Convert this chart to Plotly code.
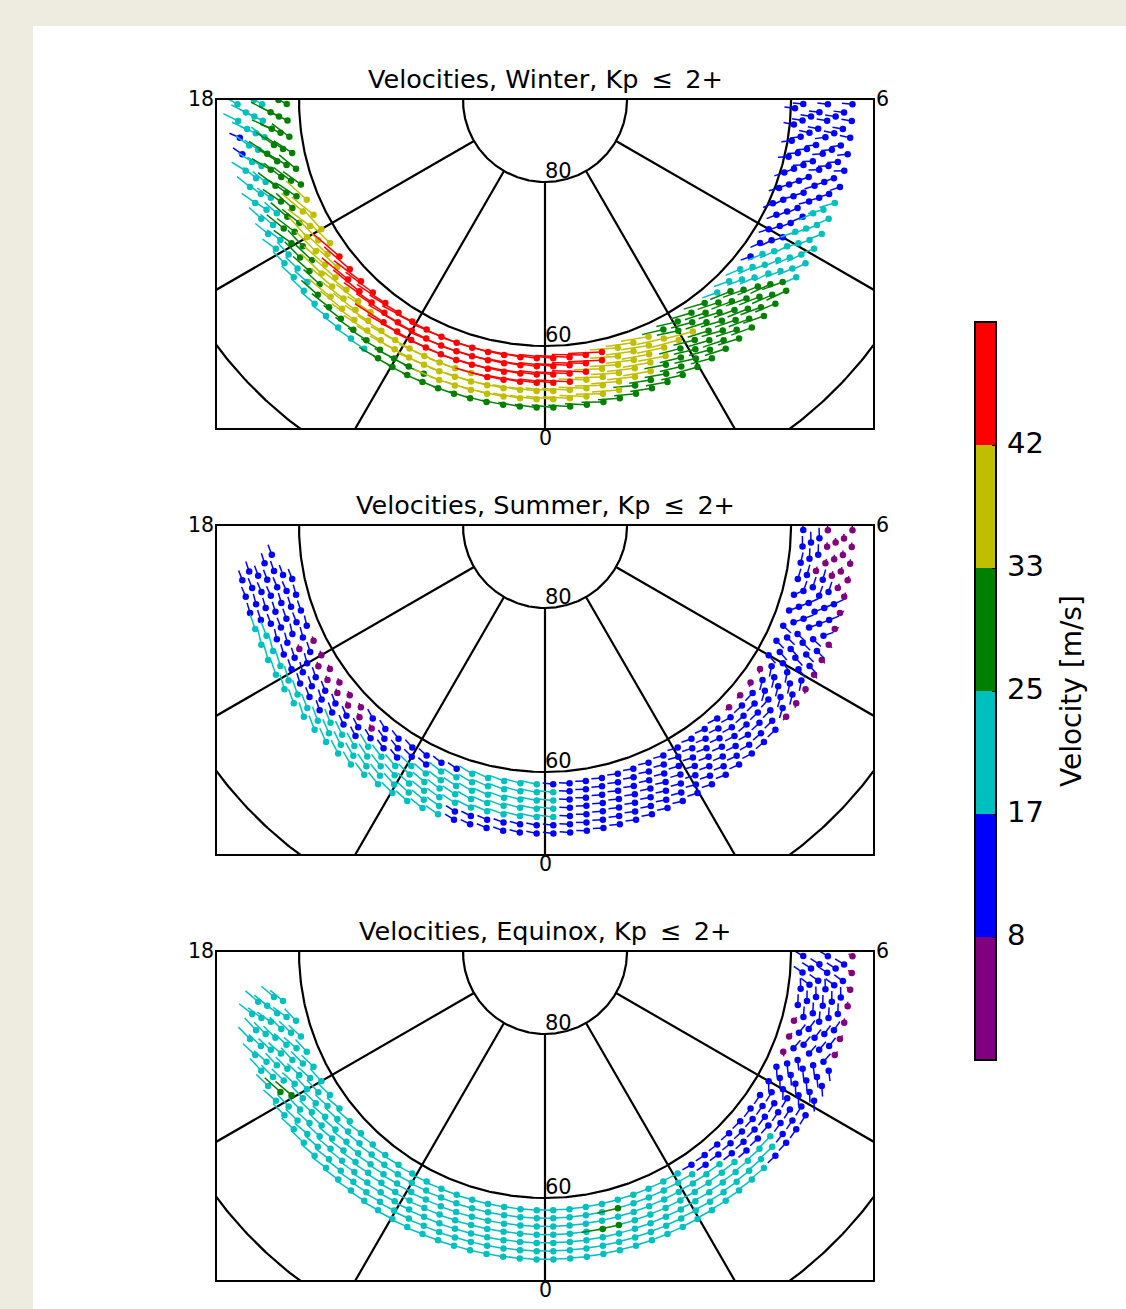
import math
import plotly.graph_objects as go

W, H = 1126, 1309

# ---------------- data ----------------
SPEED_EDGES = [8, 17, 25, 33, 42]
CLASS_COLORS = ["#800080", "#0000ff", "#00bfbf", "#008000", "#bfbf00", "#ff0000"]
CBAR_TICKTEXT = ["8", "17", "25", "33", "42"]

# runs along each latitude ring: (MLat, MLT start, MLT end, speed m/s)
WINTER_RUNS = [
    (59.5, 4.3, 5.9, 14),
    (58.5, 18.0, 19.4, 29), (58.5, 19.4, 20.3, 37), (58.5, 20.3, 1.0, 45), (58.5, 1.0, 1.8, 37),
    (58.5, 1.8, 2.6, 29), (58.5, 2.6, 3.3, 21), (58.5, 3.3, 6.0, 14),
    (57.5, 18.0, 19.5, 29), (57.5, 19.5, 20.7, 37), (57.5, 20.7, 0.9, 45), (57.5, 0.9, 2.0, 37),
    (57.5, 2.0, 3.0, 29), (57.5, 3.0, 3.8, 21), (57.5, 3.8, 6.0, 14),
    (56.5, 18.0, 19.8, 29), (56.5, 19.8, 21.5, 37), (56.5, 21.5, 0.7, 45), (56.5, 0.7, 2.3, 37),
    (56.5, 2.3, 3.2, 29), (56.5, 3.2, 4.0, 21), (56.5, 4.0, 6.0, 14),
    (55.5, 18.0, 18.6, 22), (55.5, 18.6, 20.3, 29), (55.5, 20.3, 23.0, 37), (55.5, 23.0, 0.5, 44),
    (55.5, 0.5, 1.8, 37), (55.5, 1.8, 3.3, 29), (55.5, 3.3, 4.3, 21), (55.5, 4.3, 6.0, 14),
    (54.5, 18.0, 19.6, 22), (54.5, 19.6, 20.8, 29), (54.5, 20.8, 1.5, 37), (54.5, 1.5, 3.4, 29),
    (54.5, 3.4, 4.55, 21), (54.5, 4.55, 6.0, 14),
    (53.5, 18.0, 20.5, 22), (53.5, 20.5, 22.5, 29), (53.5, 22.5, 1.0, 36), (53.5, 1.0, 3.6, 29),
    (53.5, 3.6, 4.7, 21), (53.5, 4.7, 6.0, 14),
    (52.5, 18.0, 18.45, 22), (52.5, 18.45, 18.8, 15), (52.5, 18.8, 21.8, 22), (52.5, 21.8, 3.45, 29),
    (52.5, 3.45, 4.85, 21), (52.5, 4.85, 6.0, 14),
]
# flow direction per half hour of MLT from 18 to 6 (deg from local east toward the pole)
WINTER_DIR = [60, 45, 35, 25, 12, 8, 5, 3, 0, -2, -4, -6,
              -8, -10, -12, -14, -18, -22, -26, -32, -42, -55, -75, -95]

SUMMER_RUNS = [
    (58.5, 18.6, 19.6, 14), (58.5, 19.6, 21.2, 6), (58.5, 21.2, 22.7, 14), (58.5, 22.7, 0.0, 20),
    (58.5, 0.0, 2.8, 14), (58.5, 2.8, 3.8, 6), (58.5, 3.8, 6.0, 14),
    (57.5, 18.5, 20.0, 14), (57.5, 20.0, 21.3, 6), (57.5, 21.3, 22.3, 14), (57.5, 22.3, 0.2, 20),
    (57.5, 0.2, 6.0, 14),
    (56.5, 18.3, 19.7, 14), (56.5, 19.7, 19.9, 6), (56.5, 19.9, 22.0, 14), (56.5, 22.0, 0.2, 20),
    (56.5, 0.2, 5.3, 14), (56.5, 5.3, 5.5, 6), (56.5, 5.5, 6.0, 14),
    (55.5, 18.4, 21.3, 14), (55.5, 21.3, 0.2, 20), (55.5, 0.2, 5.3, 14), (55.5, 5.3, 6.0, 6),
    (54.5, 18.45, 20.8, 14), (54.5, 20.8, 0.2, 20), (54.5, 0.2, 5.2, 14), (54.5, 5.2, 6.0, 6),
    (53.5, 18.55, 19.3, 14), (53.5, 19.3, 22.7, 20), (53.5, 22.7, 5.2, 14), (53.5, 5.2, 6.0, 6),
    (52.5, 18.55, 19.2, 14), (52.5, 19.2, 22.7, 20), (52.5, 22.7, 3.4, 14), (52.5, 3.4, 6.0, 6),
]
SUMMER_DIR = [15, 10, 0, -10, -15, -20, -20, -18, -15, -15, -12, -10,
              -8, -8, -10, -12, -15, -15, -5, 20, 70, 130, 175, 185]

EQUINOX_RUNS = [
    (58.5, 18.8, 2.15, 22), (58.5, 2.15, 4.4, 14), (58.5, 4.4, 5.0, 6), (58.5, 5.0, 6.0, 14),
    (57.5, 18.7, 0.95, 22), (57.5, 0.95, 1.1, 28), (57.5, 1.1, 2.4, 22), (57.5, 2.4, 5.6, 14),
    (57.5, 5.6, 5.75, 6), (57.5, 5.75, 6.0, 14),
    (56.5, 18.6, 0.85, 22), (56.5, 0.85, 0.95, 28), (56.5, 0.95, 2.7, 22), (56.5, 2.7, 6.0, 14),
    (55.5, 18.55, 0.7, 22), (55.5, 0.7, 1.05, 28), (55.5, 1.05, 3.0, 22), (55.5, 3.0, 6.0, 14),
    (54.5, 18.6, 19.9, 22), (54.5, 19.9, 20.05, 28), (54.5, 20.05, 3.5, 22), (54.5, 3.5, 6.0, 14),
    (53.5, 18.7, 19.8, 22), (53.5, 19.8, 19.95, 28), (53.5, 19.95, 3.3, 22), (53.5, 3.3, 6.0, 14),
    (52.5, 18.9, 19.35, 22), (52.5, 19.35, 19.5, 14), (52.5, 19.5, 3.15, 22), (52.5, 3.15, 4.5, 14),
    (52.5, 4.5, 6.0, 6),
]
EQUINOX_DIR = [45, 40, 28, 20, 12, 8, 5, 3, 2, 0, -2, -3,
               -3, -3, -3, -3, -5, -5, -5, 0, 30, 160, 190, 240]

TITLES = ["Velocities, Winter, Kp\u2002\u2264\u20022+", "Velocities, Summer, Kp\u2002\u2264\u20022+",
          "Velocities, Equinox, Kp\u2002\u2264\u20022+"]
RING_LATS = [80, 60, 40]
RING_LABELS = ["80", "60"]
SPOKE_MLTS = [20, 22, 0, 2, 4]
MLT_LABELS = ["18", "0", "6"]
CBAR_TITLE = "Velocity [m/s]"

# ---------------- layout constants ----------------
PANEL_TOPS = [100, 526, 952]
PANEL_LEFT, PANEL_RIGHT, PANEL_H = 217, 873, 328
CX = 545
FONT = "DejaVu Sans"
ARROW_SCALE = 0.092   # deg of colatitude per m/s
GRID_WIDTH = 1.9      # equal-area bin width in degrees
CB_TOP, CB_BOT, CB_LEFT, CB_W = 322, 1060, 975, 21


def speed_class(v):
    k = 0
    for e in SPEED_EDGES:
        if v >= e:
            k += 1
    return k


def h_from18(mlt):
    return (mlt - 18.0) % 24.0


def build_vectors(runs, dirs):
    out = [[] for _ in CLASS_COLORS]
    for lat, m0, m1, spd in runs:
        a = h_from18(m0)
        b = 12.0 if m1 == 6.0 else h_from18(m1)
        n = int(round(360.0 * math.cos(math.radians(lat)) / GRID_WIDTH))
        r = 90.0 - lat
        for i in range(n):
            mlt = (i + 0.5) * 24.0 / n
            h = h_from18(mlt)
            if not (a <= h < b):
                continue
            k = min(int(h * 2), len(dirs) - 1)
            az = math.radians(dirs[k])
            th = mlt * math.pi / 12.0
            x, y = r * math.sin(th), -r * math.cos(th)
            ex, ey = math.cos(th), math.sin(th)
            nx, ny = -math.sin(th), math.cos(th)
            vx = math.cos(az) * ex + math.sin(az) * nx
            vy = math.cos(az) * ey + math.sin(az) * ny
            L = spd * ARROW_SCALE
            out[speed_class(spd)].append((x, y, x - L * vx, y - L * vy))
    return out


fig = go.Figure()
layout = dict(
    width=W, height=H, margin=dict(l=0, r=0, t=0, b=0),
    paper_bgcolor="#eeebe0", plot_bgcolor="white", showlegend=False,
    font=dict(family=FONT, color="black"),
)
shapes = [dict(type="rect", xref="paper", yref="paper", x0=33 / W, x1=1, y0=0, y1=1 - 26 / H,
               fillcolor="white", line=dict(width=0), layer="below")]
annotations = []

all_runs = [(WINTER_RUNS, WINTER_DIR), (SUMMER_RUNS, SUMMER_DIR), (EQUINOX_RUNS, EQUINOX_DIR)]

for p, top in enumerate(PANEL_TOPS):
    sfx = "" if p == 0 else str(p + 1)
    xref, yref = "x" + sfx, "y" + sfx
    layout["xaxis" + sfx] = dict(domain=[PANEL_LEFT / W, PANEL_RIGHT / W], range=[-40, 40],
                                 showline=True, mirror=True, linecolor="black", linewidth=2,
                                 showgrid=False, zeroline=False, showticklabels=False, ticks="",
                                 fixedrange=True, anchor=yref)
    layout["yaxis" + sfx] = dict(domain=[1 - (top + PANEL_H) / H, 1 - top / H], range=[-40, 0],
                                 showline=True, mirror=True, linecolor="black", linewidth=2,
                                 showgrid=False, zeroline=False, showticklabels=False, ticks="",
                                 fixedrange=True, anchor=xref)
    for lat in RING_LATS:
        r = 90 - lat
        ts = [2 * math.pi * j / 720 for j in range(721)]
        fig.add_trace(go.Scatter(x=[r * math.sin(t) for t in ts], y=[-r * math.cos(t) for t in ts],
                                 mode="lines", line=dict(color="black", width=2.2),
                                 hoverinfo="skip", xaxis=xref, yaxis=yref))
    for m in SPOKE_MLTS:
        th = m * math.pi / 12
        fig.add_trace(go.Scatter(x=[10 * math.sin(th), 60 * math.sin(th)],
                                 y=[-10 * math.cos(th), -60 * math.cos(th)],
                                 mode="lines", line=dict(color="black", width=2.2),
                                 hoverinfo="skip", xaxis=xref, yaxis=yref))
    runs, dirs = all_runs[p]
    vecs = build_vectors(runs, dirs)
    for k, col in enumerate(CLASS_COLORS):
        if not vecs[k]:
            continue
        lx, ly = [], []
        for (x, y, x0, y0) in vecs[k]:
            lx += [x0, x, None]
            ly += [y0, y, None]
        fig.add_trace(go.Scatter(x=lx, y=ly, mode="lines", line=dict(color=col, width=1.5),
                                 hoverinfo="skip", xaxis=xref, yaxis=yref))
        fig.add_trace(go.Scatter(x=[v[0] for v in vecs[k]], y=[v[1] for v in vecs[k]], mode="markers",
                                 marker=dict(color=col, size=6.5, line=dict(width=0)),
                                 hoverinfo="skip", xaxis=xref, yaxis=yref))
    annotations.append(dict(text=TITLES[p], xref="paper", yref="paper", x=CX / W, y=1 - (top - 21) / H,
                            xanchor="center", yanchor="middle", showarrow=False, font=dict(size=25.5)))
    annotations.append(dict(text=MLT_LABELS[0], xref="paper", yref="paper", x=(PANEL_LEFT - 1) / W,
                            y=1 - (top - 1) / H, xanchor="right", yanchor="middle", showarrow=False,
                            font=dict(size=20.5)))
    annotations.append(dict(text=MLT_LABELS[2], xref="paper", yref="paper", x=(PANEL_RIGHT + 1) / W,
                            y=1 - (top - 1) / H, xanchor="left", yanchor="middle", showarrow=False,
                            font=dict(size=20.5)))
    annotations.append(dict(text=MLT_LABELS[1], xref="paper", yref="paper", x=CX / W,
                            y=1 - (top + PANEL_H + 10) / H, xanchor="center", yanchor="middle",
                            showarrow=False, font=dict(size=20.5)))
    for lab, lat in zip(RING_LABELS, RING_LATS):
        r = 90 - lat
        annotations.append(dict(text=lab, xref=xref, yref=yref, x=-0.25, y=-r + 1.35,
                                xanchor="left", yanchor="middle", showarrow=False,
                                font=dict(size=21)))

# colour bar (bar drawn by plotly, labels placed as annotations)
cscale = []
for k, c in enumerate(CLASS_COLORS):
    cscale.append([k / 6, c])
    cscale.append([(k + 1) / 6, c])
fig.add_trace(go.Scatter(
    x=[100], y=[100], mode="markers", xaxis="x", yaxis="y", hoverinfo="skip",
    marker=dict(color=[0.5], cmin=0, cmax=6, colorscale=cscale, showscale=True, size=1,
                colorbar=dict(thickness=CB_W, thicknessmode="pixels", len=CB_BOT - CB_TOP,
                              lenmode="pixels", x=CB_LEFT / W, xanchor="left", xpad=0,
                              y=1 - (CB_TOP + CB_BOT) / 2 / H, yanchor="middle", ypad=0,
                              outlinewidth=2, outlinecolor="black",
                              tickvals=[1, 2, 3, 4, 5], ticktext=CBAR_TICKTEXT,
                              ticks="inside", ticklen=5, tickcolor="black", tickwidth=1,
                              showticklabels=False))))
step = (CB_BOT - CB_TOP) / 6
for j, t in enumerate(CBAR_TICKTEXT):
    ypx = CB_BOT - (j + 1) * step
    annotations.append(dict(text=t, xref="paper", yref="paper", x=1005 / W, y=1 - (ypx - 2) / H,
                            xanchor="left", yanchor="middle", showarrow=False, font=dict(size=29)))
annotations.append(dict(text=CBAR_TITLE, xref="paper", yref="paper", x=1071 / W,
                        y=1 - 691 / H, xanchor="center", yanchor="middle", showarrow=False,
                        textangle=-90, font=dict(size=28)))

layout["shapes"] = shapes
layout["annotations"] = annotations
fig.update_layout(**layout)
fig.write_html("out.html")
